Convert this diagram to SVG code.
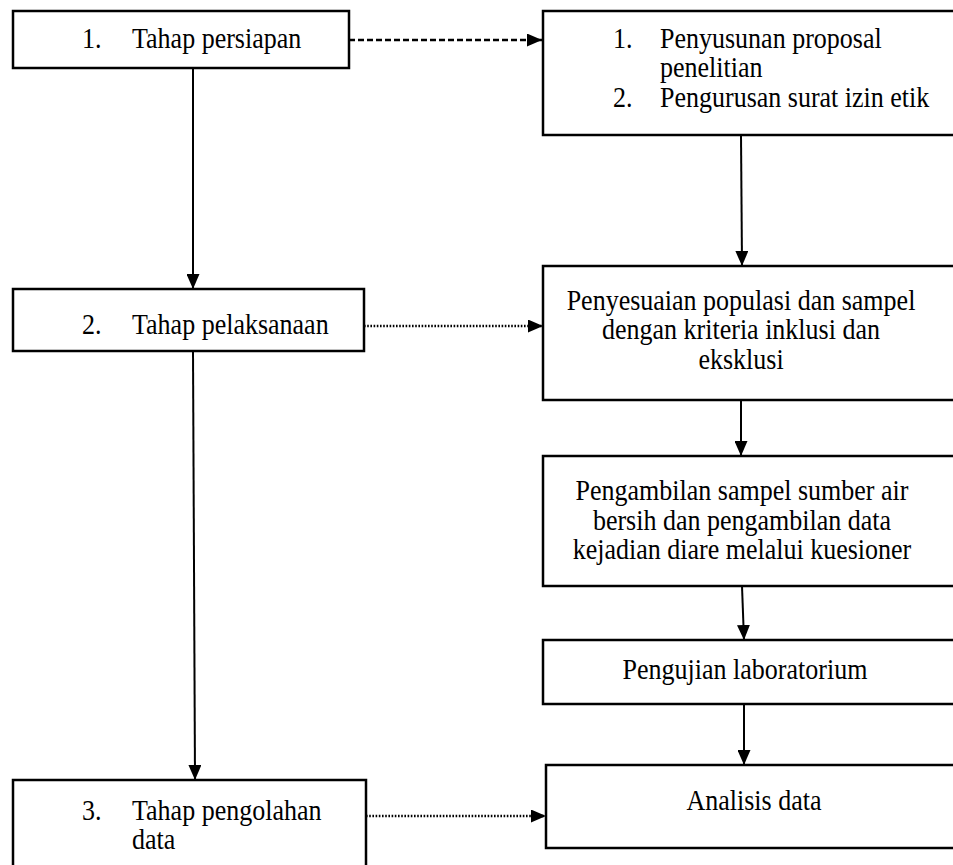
<svg xmlns="http://www.w3.org/2000/svg" width="953" height="865" viewBox="0 0 953 865">
<style>
.box{fill:#fff;stroke:#000;stroke-width:2.5}
.t{font-family:"Liberation Serif","Times New Roman",serif;font-size:26px;fill:#000;transform-box:fill-box;transform-origin:center;transform:scaleY(1.1)}
.c{text-anchor:middle}
.ln{stroke:#000;stroke-width:2;fill:none}
.dash{stroke-dasharray:6 3;stroke-width:2.5}
.dot{stroke-dasharray:1.6 1.6;stroke-width:2.5}
</style>
<defs>
<marker id="ah" markerWidth="15" markerHeight="13" refX="15" refY="6.5" orient="auto" markerUnits="userSpaceOnUse">
<path d="M0,0 L15,6.5 L0,13 Z" fill="#000"/>
</marker>
</defs>
<rect width="953" height="865" fill="#fff"/>
<g id="connectors">
<line class="ln dash" x1="349" y1="40" x2="542" y2="40" marker-end="url(#ah)"/>
<line class="ln dot" x1="364" y1="326" x2="543" y2="326" marker-end="url(#ah)"/>
<line class="ln dot" x1="366" y1="816" x2="546" y2="816" marker-end="url(#ah)"/>
<line class="ln" x1="193" y1="68" x2="193" y2="289" marker-end="url(#ah)"/>
<line class="ln" x1="193" y1="351" x2="195" y2="780" marker-end="url(#ah)"/>
<line class="ln" x1="741" y1="135" x2="742" y2="266" marker-end="url(#ah)"/>
<line class="ln" x1="741" y1="400" x2="741" y2="456" marker-end="url(#ah)"/>
<line class="ln" x1="742" y1="586" x2="744" y2="640" marker-end="url(#ah)"/>
<line class="ln" x1="744" y1="704" x2="744" y2="765" marker-end="url(#ah)"/>
</g>
<g id="n1">
<rect class="box" x="13" y="11" width="336" height="57"/>
<text class="t" x="82" y="47">1.</text>
<text class="t" x="132" y="47">Tahap persiapan</text>
</g>
<g id="n2">
<rect class="box" x="543" y="11" width="420" height="124"/>
<text class="t" x="613" y="47">1.</text>
<text class="t" x="660" y="47">Penyusunan proposal</text>
<text class="t" x="660" y="76">penelitian</text>
<text class="t" x="613" y="106">2.</text>
<text class="t" x="660" y="106">Pengurusan surat izin etik</text>
</g>
<g id="n3">
<rect class="box" x="13" y="289" width="351" height="62"/>
<text class="t" x="82" y="333">2.</text>
<text class="t" x="132" y="333">Tahap pelaksanaan</text>
</g>
<g id="n4">
<rect class="box" x="543" y="266" width="420" height="134"/>
<text class="t c" x="741" y="309">Penyesuaian populasi dan sampel</text>
<text class="t c" x="741" y="338">dengan kriteria inklusi dan</text>
<text class="t c" x="741" y="368">eksklusi</text>
</g>
<g id="n5">
<rect class="box" x="543" y="456" width="420" height="130"/>
<text class="t c" x="742" y="499">Pengambilan sampel sumber air</text>
<text class="t c" x="742" y="529">bersih dan pengambilan data</text>
<text class="t c" x="742" y="558">kejadian diare melalui kuesioner</text>
</g>
<g id="n6">
<rect class="box" x="543" y="640" width="420" height="64"/>
<text class="t c" x="745" y="678">Pengujian laboratorium</text>
</g>
<g id="n7">
<rect class="box" x="546" y="765" width="420" height="83"/>
<text class="t c" x="754" y="809">Analisis data</text>
</g>
<g id="n8">
<rect class="box" x="13" y="780" width="353" height="100"/>
<text class="t" x="82" y="819">3.</text>
<text class="t" x="132" y="819">Tahap pengolahan</text>
<text class="t" x="132" y="848">data</text>
</g>
</svg>
